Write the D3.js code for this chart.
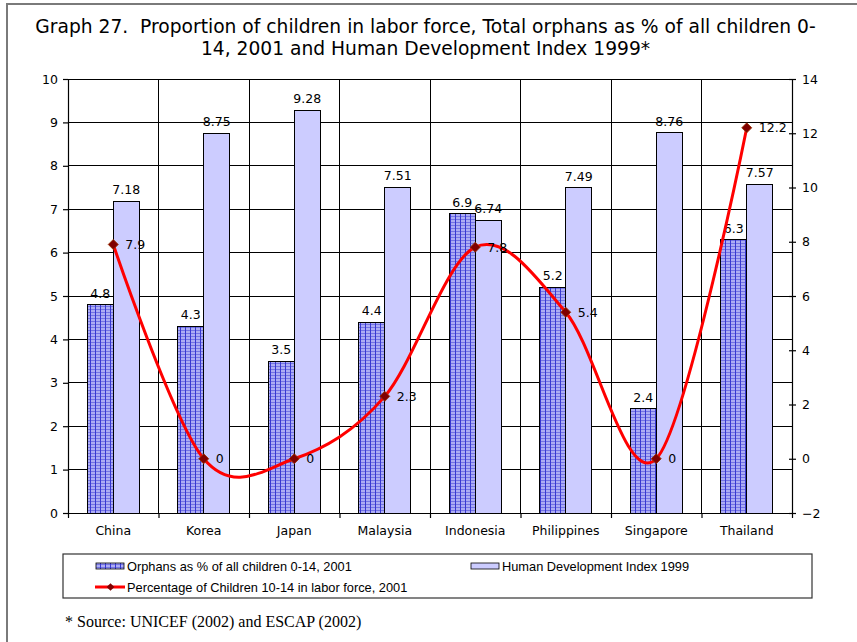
<!DOCTYPE html>
<html>
<head>
<meta charset="utf-8">
<script src="https://cdn.jsdelivr.net/npm/d3@7"></script>
<style>
  html, body { margin: 0; padding: 0; background: #fff; }
  svg { display: block; }
</style>
</head>
<body>
<script>
// Countries along the category axis
const categories = ["China", "Korea", "Japan", "Malaysia", "Indonesia", "Philippines", "Singapore", "Thailand"];
// Orphans as % of all children 0-14, 2001 (left axis)
const orphans = [4.8, 4.3, 3.5, 4.4, 6.9, 5.2, 2.4, 6.3];
// Human Development Index 1999 (left axis)
const hdi = [7.18, 8.75, 9.28, 7.51, 6.74, 7.49, 8.76, 7.57];
// Percentage of children 10-14 in labor force, 2001 (right axis)
const labor = [7.9, 0, 0, 2.3, 7.8, 5.4, 0, 12.2];
// Axis tick values
const leftTicks = [0, 1, 2, 3, 4, 5, 6, 7, 8, 9, 10];
const rightTicks = [-2, 0, 2, 4, 6, 8, 10, 12, 14];

const W = 857, H = 642;
const plot = { left: 68, right: 792, top: 79, bottom: 513 };
const axisFont = "'DejaVu Sans', Verdana, sans-serif";

const svg = d3.select("body").append("svg").attr("width", W).attr("height", H);

// Bar fill pattern: blue grid on lavender
const defs = svg.append("defs");
const pat = defs.append("pattern")
  .attr("id", "gridFill").attr("patternUnits", "userSpaceOnUse")
  .attr("width", 5).attr("height", 3);
pat.append("rect").attr("width", 5).attr("height", 3).attr("fill", "#adadf4");
pat.append("rect").attr("y", 0).attr("width", 5).attr("height", 1).attr("fill", "#7474e4");
pat.append("rect").attr("x", 0).attr("width", 1).attr("height", 3).attr("fill", "#3838d0");

// Page frame
svg.append("rect").attr("x", 7).attr("y", 4).attr("width", 900).attr("height", 700)
  .attr("fill", "#fff").attr("stroke", "#7a7a7a").attr("stroke-width", 2);

// Title, sized to its line width
const title = svg.append("g").attr("font-family", axisFont).attr("fill", "#000");
const t1 = title.append("text").attr("x", 425.5).attr("y", 33).attr("text-anchor", "middle")
  .attr("font-size", 17).style("white-space", "pre")
  .text("Graph 27.  Proportion of children in labor force, Total orphans as % of all children 0-");
const fs = 17 * 781 / t1.node().getComputedTextLength();
t1.attr("font-size", fs);
title.append("text").attr("x", 425.5).attr("y", 55).attr("text-anchor", "middle")
  .attr("font-size", fs).text("14, 2001 and Human Development Index 1999*");

// Scales
const x = d3.scaleBand().domain(categories).range([plot.left, plot.right]).paddingInner(0).paddingOuter(0);
const xSub = d3.scaleBand().domain(["orphans", "hdi"]).range([0, x.bandwidth()])
  .paddingInner(0).paddingOuter(0.74);
const xEdge = d3.scaleLinear().domain([0, categories.length]).range([plot.left, plot.right]);
const yL = d3.scaleLinear().domain([0, 10]).range([plot.bottom, plot.top]);
const yR = d3.scaleLinear().domain([-2, 14]).range([plot.bottom, plot.top]);

// Gridlines
const grid = svg.append("g").attr("stroke", "#000").attr("stroke-width", 1).attr("shape-rendering", "crispEdges");
grid.selectAll("line.h").data(leftTicks.filter(d => d > 0)).join("line")
  .attr("x1", plot.left).attr("x2", plot.right)
  .attr("y1", d => yL(d)).attr("y2", d => yL(d));
grid.selectAll("line.v").data(d3.range(1, categories.length)).join("line")
  .attr("x1", d => xEdge(d)).attr("x2", d => xEdge(d))
  .attr("y1", plot.top).attr("y2", plot.bottom);

// Bars
const bars = svg.append("g").attr("shape-rendering", "crispEdges");
const barData = categories.flatMap((c, i) => [
  { c, key: "orphans", v: orphans[i] },
  { c, key: "hdi", v: hdi[i] }
]);
bars.selectAll("rect").data(barData).join("rect")
  .attr("x", d => x(d.c) + xSub(d.key))
  .attr("width", xSub.bandwidth())
  .attr("y", d => yL(d.v))
  .attr("height", d => yL(0) - yL(d.v))
  .attr("fill", d => d.key === "orphans" ? "url(#gridFill)" : "#ccccff")
  .attr("stroke", "#000").attr("stroke-width", 1);

// Bar value labels
svg.append("g").attr("font-family", axisFont).attr("font-size", 12.5).attr("fill", "#000")
  .selectAll("text").data(barData).join("text")
  .attr("x", d => x(d.c) + xSub(d.key) + xSub.bandwidth() / 2)
  .attr("y", d => yL(d.v) - 7)
  .attr("text-anchor", "middle")
  .text(d => String(d.v));

// Axes
function styleAxis(g) {
  g.attr("font-family", axisFont).attr("font-size", 12.5);
  g.selectAll("path.domain").attr("stroke", "#000").attr("stroke-width", 1.2);
  g.selectAll(".tick line").attr("stroke", "#000").attr("stroke-width", 1.2);
  g.selectAll(".tick text").attr("fill", "#000");
}
svg.append("g").attr("transform", `translate(${plot.left},0)`)
  .call(d3.axisLeft(yL).tickValues(leftTicks).tickSizeInner(5).tickSizeOuter(0).tickPadding(5))
  .call(styleAxis);

const rAxis = svg.append("g").attr("transform", `translate(${plot.right},0)`)
  .call(d3.axisRight(yR).tickValues(rightTicks).tickSizeInner(4).tickSizeOuter(0).tickPadding(6))
  .call(styleAxis);
rAxis.selectAll(".tick line").attr("x1", -3);

svg.append("g").attr("transform", `translate(0,${plot.bottom})`)
  .call(d3.axisBottom(xEdge).tickValues(d3.range(0, categories.length + 1))
    .tickSizeInner(5).tickSizeOuter(0).tickFormat(""))
  .call(styleAxis);
svg.append("g").attr("transform", `translate(0,${plot.bottom})`)
  .call(d3.axisBottom(x).tickSize(0).tickPadding(13))
  .call(styleAxis)
  .call(g => g.select("path.domain").remove());

// Labor-force line, smoothed
const cx = c => x(c) + x.bandwidth() / 2;
const lineData = categories.map((c, i) => ({ c, v: labor[i] }));
svg.append("path").datum(lineData)
  .attr("fill", "none").attr("stroke", "#ff0000").attr("stroke-width", 3)
  .attr("d", d3.line().x(d => cx(d.c)).y(d => yR(d.v)).curve(d3.curveCatmullRom.alpha(0)));

const diamond = d3.symbol().type(d3.symbolSquare).size(50);
svg.append("g").selectAll("path").data(lineData).join("path")
  .attr("d", diamond)
  .attr("transform", d => `translate(${cx(d.c)},${yR(d.v)}) rotate(45)`)
  .attr("fill", "#800000").attr("stroke", "#993300").attr("stroke-width", 0.8);

svg.append("g").attr("font-family", axisFont).attr("font-size", 12.5).attr("fill", "#000")
  .selectAll("text").data(lineData).join("text")
  .attr("x", d => cx(d.c) + 12)
  .attr("y", d => yR(d.v))
  .attr("dy", "0.36em")
  .text(d => String(d.v));

// Legend
const legendFont = "'Liberation Sans', Arial, sans-serif";
const lg = svg.append("g").attr("font-family", legendFont).attr("font-size", 12.8).attr("fill", "#000");
lg.append("rect").attr("x", 63).attr("y", 554).attr("width", 749).attr("height", 44)
  .attr("fill", "#fff").attr("stroke", "#333").attr("stroke-width", 1.2);
lg.append("rect").attr("x", 96).attr("y", 563).attr("width", 28).attr("height", 6)
  .attr("fill", "url(#gridFill)").attr("stroke", "#000").attr("stroke-width", 0.8);
lg.append("text").attr("x", 127).attr("y", 570.5).text("Orphans as % of all children 0-14, 2001");
lg.append("rect").attr("x", 471).attr("y", 563).attr("width", 28).attr("height", 6)
  .attr("fill", "#ccccff").attr("stroke", "#000").attr("stroke-width", 0.8);
lg.append("text").attr("x", 502).attr("y", 570.5).text("Human Development Index 1999");
lg.append("line").attr("x1", 95).attr("x2", 125).attr("y1", 587).attr("y2", 587)
  .attr("stroke", "#ff0000").attr("stroke-width", 3);
lg.append("path").attr("d", d3.symbol().type(d3.symbolSquare).size(30))
  .attr("transform", "translate(110.5,587) rotate(45)")
  .attr("fill", "#800000");
lg.append("text").attr("x", 127).attr("y", 591.5).text("Percentage of Children 10-14 in labor force, 2001");

// Source note
svg.append("text").attr("x", 65).attr("y", 627)
  .attr("font-family", "'Liberation Serif', 'Times New Roman', serif").attr("font-size", 16)
  .attr("fill", "#000").text("* Source: UNICEF (2002) and ESCAP (2002)");
</script>
</body>
</html>
